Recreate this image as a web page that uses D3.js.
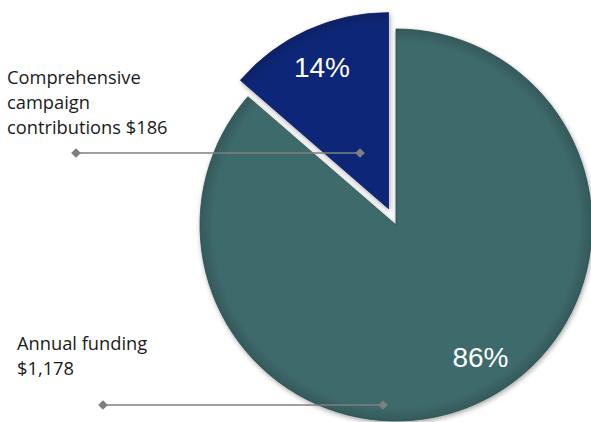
<!DOCTYPE html>
<html><head><meta charset="utf-8">
<script src="https://cdn.jsdelivr.net/npm/d3@7"></script>
<style>html,body{margin:0;padding:0;background:#fff;}svg{display:block;}</style>
</head><body>
<svg id="chart" width="591" height="422"></svg>
<script>
const categories = ["Annual funding", "Comprehensive campaign contributions"];
const values = [1178, 186];
const pctLabels = ["86%", "14%"];
const labelLines = [["Annual funding", "$1,178"], ["Comprehensive", "campaign", "contributions $186"]];
const colors = ["#3e6a6b", "#0f2878"];
const edgeColors = ["#2b4c4d", "#0a1c58"];

const svg = d3.select("#chart");
const W = 591, H = 422;
const cx = 396, cy = 225, R = 196;
const explode = [0, 18];

const defs = svg.append("defs");
const f = defs.append("filter").attr("id", "shadow").attr("x", "-20%").attr("y", "-20%").attr("width", "140%").attr("height", "140%");
f.append("feDropShadow").attr("dx", 1).attr("dy", 2).attr("stdDeviation", 2.5).attr("flood-color", "#000").attr("flood-opacity", 0.35);

colors.forEach((c, i) => {
  const g = defs.append("radialGradient").attr("id", "grad" + i)
    .attr("gradientUnits", "userSpaceOnUse").attr("cx", 0).attr("cy", 0).attr("r", R);
  g.append("stop").attr("offset", "0%").attr("stop-color", c);
  g.append("stop").attr("offset", "93%").attr("stop-color", c);
  g.append("stop").attr("offset", "100%").attr("stop-color", d3.color(c).darker(0.45));
});

const pie = d3.pie().sort(null).value(d => d);
const arcs = pie(values);
const arc = d3.arc().innerRadius(0).outerRadius(R);

const g = svg.append("g").attr("transform", `translate(${cx},${cy})`);
const slices = g.selectAll("g.slice").data(arcs).join("g")
  .attr("class", "slice")
  .attr("transform", (d, i) => {
    const mid = (d.startAngle + d.endAngle) / 2;
    const [x, y] = d3.pointRadial(mid, explode[i]);
    return `translate(${x},${y})`;
  });
slices.append("path")
  .attr("d", arc)
  .attr("fill", (d, i) => `url(#grad${i})`)
  .attr("stroke", (d, i) => edgeColors[i])
  .attr("stroke-width", 0.8)
  .attr("filter", "url(#shadow)");

// percentage labels
const pctPos = [[0.80, -0.14], [0.80, -0.01]];
slices.append("text")
  .attr("x", (d, i) => {
    const mid = (d.startAngle + d.endAngle) / 2 + pctPos[i][1];
    return d3.pointRadial(mid, R * pctPos[i][0])[0];
  })
  .attr("y", (d, i) => {
    const mid = (d.startAngle + d.endAngle) / 2 + pctPos[i][1];
    return d3.pointRadial(mid, R * pctPos[i][0])[1] + 10;
  })
  .attr("text-anchor", "middle")
  .attr("font-family", "Liberation Sans, Arial, sans-serif")
  .attr("font-size", 28)
  .attr("fill", "#fff")
  .text((d, i) => pctLabels[i]);

// category labels with leader lines
const labelCfg = [
  { x: 17, y: 350, lead: [103, 383, 405] },
  { x: 7, y: 84, lead: [76, 360, 153] }
];
labelCfg.forEach((c, i) => {
  const t = svg.append("text").attr("font-family", "Open Sans, sans-serif").attr("font-size", 18.3).attr("fill", "#1a1a1a");
  labelLines[i].forEach((ln, j) => {
    t.append("tspan").attr("x", c.x).attr("y", c.y + j * 25).text(ln);
  });
  svg.append("line").attr("x1", c.lead[0]).attr("x2", c.lead[1]).attr("y1", c.lead[2]).attr("y2", c.lead[2])
    .attr("stroke", "#7f7f7f").attr("stroke-width", 1.5);
  [c.lead[0], c.lead[1]].forEach(x => {
    svg.append("path").attr("d", d3.symbol(d3.symbolDiamond2, 60)())
      .attr("transform", `translate(${x},${c.lead[2]})`)
      .attr("fill", "#7f7f7f");
  });
});
</script>
</body></html>
